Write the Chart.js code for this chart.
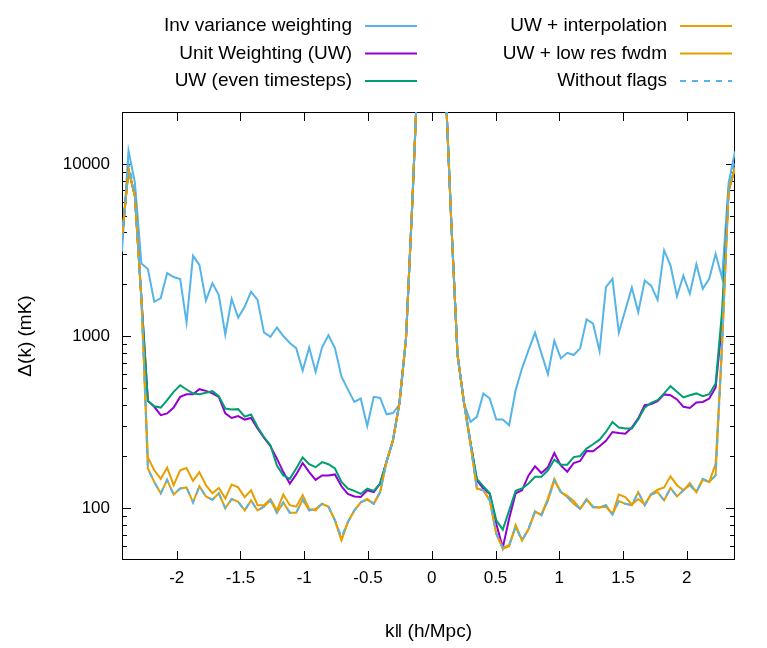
<!DOCTYPE html>
<html>
<head>
<meta charset="utf-8">
<script src="https://cdn.jsdelivr.net/npm/chart.js@4.4.0/dist/chart.umd.min.js"></script>
<style>
  html, body { margin: 0; padding: 0; background: #fff; }
  #wrap { width: 767px; height: 648px; }
</style>
</head>
<body>
<div id="wrap"><canvas id="chart" width="767" height="648"></canvas></div>
<script>
// k parallel grid (h/Mpc)
const kPar = [
  -2.429, -2.378, -2.328, -2.277, -2.226, -2.176, -2.125, -2.075, -2.024, -1.973,
  -1.923, -1.872, -1.822, -1.771, -1.720, -1.670, -1.619, -1.569, -1.518, -1.467,
  -1.417, -1.366, -1.316, -1.265, -1.214, -1.164, -1.113, -1.063, -1.012, -0.961,
  -0.911, -0.860, -0.810, -0.759, -0.708, -0.658, -0.607, -0.557, -0.506, -0.455,
  -0.405, -0.354, -0.304, -0.253, -0.202, -0.152, -0.101, -0.051, 0, 0.051,
  0.101, 0.152, 0.202, 0.253, 0.304, 0.354, 0.405, 0.455, 0.506, 0.557,
  0.607, 0.658, 0.708, 0.759, 0.810, 0.860, 0.911, 0.961, 1.012, 1.063,
  1.113, 1.164, 1.214, 1.265, 1.316, 1.366, 1.417, 1.467, 1.518, 1.569,
  1.619, 1.670, 1.720, 1.771, 1.822, 1.872, 1.923, 1.973, 2.024, 2.075,
  2.125, 2.176, 2.226, 2.277, 2.328, 2.378
];

// Delta(k) in mK for each run
const invVar = [
  3100, 11900, 7800, 2640, 2450, 1580, 1660, 2320, 2200, 2140,
  1200, 2920, 2590, 1610, 2030, 1730, 1020, 1640, 1280, 1480,
  1810, 1620, 1050, 990, 1120, 1000, 910, 850, 630, 860,
  620, 860, 1010, 850, 580, 490, 414, 433, 300, 443,
  437, 351, 357, 400, 965, 6000, 50000, 300000, 1000000, 300000,
  38000, 4800, 780, 405, 317, 339, 464, 433, 327, 327,
  303, 485, 649, 828, 1045, 793, 601, 939, 741, 799,
  775, 848, 1250, 1180, 815, 1920, 2150, 1045, 1417, 1910,
  1374, 2100, 1960, 1620, 3140, 2570, 1700, 2240, 1760, 2610,
  1880, 2150, 3000, 2170, 7740, 11800
];
const unitW = [
  3700, 9300, 6500, 1650, 420, 388, 347, 355, 384, 443,
  459, 459, 491, 480, 464, 443, 355, 334, 343, 327,
  334, 290, 257, 229, 194, 162, 139, 157, 183, 162,
  146, 155, 155, 157, 134, 121, 117, 116, 127, 124,
  139, 187, 248, 410, 965, 6000, 50000, 300000, 1000000, 300000,
  38000, 4800, 780, 410, 240, 145, 130, 121, 81, 59,
  87, 122, 127, 155, 175, 160, 173, 209, 177, 163,
  183, 188, 215, 214, 229, 246, 277, 273, 271, 294,
  332, 396, 402, 418, 458, 453, 428, 388, 382, 411,
  414, 433, 502, 1200, 7000, 9500
];
const unitWEven = [
  3700, 9300, 6500, 1650, 420, 391, 384, 424, 474, 518,
  489, 464, 459, 468, 478, 447, 379, 374, 376, 340,
  350, 296, 259, 232, 177, 155, 148, 170, 197, 180,
  173, 185, 180, 170, 142, 130, 126, 121, 130, 126,
  139, 187, 248, 410, 965, 6000, 50000, 300000, 1000000, 300000,
  38000, 4800, 780, 410, 240, 148, 134, 122, 85, 75,
  97, 126, 130, 139, 152, 152, 166, 191, 179, 179,
  198, 201, 222, 235, 250, 277, 317, 294, 290, 290,
  327, 384, 409, 424, 464, 511, 474, 440, 453, 464,
  447, 459, 530, 1400, 7000, 9500
];
const uwInterp = [
  3700, 9300, 6500, 1650, 197, 166, 148, 172, 136, 166,
  171, 144, 162, 136, 122, 131, 114, 137, 132, 116,
  127, 104, 104, 113, 97, 120, 104, 102, 119, 99,
  97, 106, 102, 85, 65, 83, 97, 108, 112, 106,
  124, 187, 248, 410, 965, 6000, 50000, 300000, 1000000, 300000,
  38000, 4800, 780, 410, 235, 130, 127, 111, 71, 58,
  60, 80, 65, 75, 95, 92, 114, 148, 124, 118,
  110, 99, 113, 101, 101, 102, 92, 120, 116, 105,
  113, 105, 121, 128, 132, 153, 136, 127, 140, 124,
  146, 142, 181, 900, 7000, 9500
];
const uwLowRes = [
  3700, 9300, 6500, 1650, 170, 142, 122, 146, 120, 130,
  132, 108, 134, 117, 112, 122, 100, 113, 109, 97,
  111, 97, 102, 111, 94, 108, 94, 94, 112, 97,
  99, 106, 102, 85, 66, 83, 97, 108, 113, 106,
  124, 187, 248, 410, 965, 6000, 50000, 300000, 1000000, 300000,
  38000, 4800, 780, 410, 235, 130, 127, 111, 71, 59,
  61, 78, 65, 76, 96, 91, 111, 145, 124, 116,
  106, 99, 112, 102, 101, 104, 92, 110, 106, 104,
  124, 104, 120, 124, 111, 131, 117, 127, 136, 124,
  148, 142, 155, 900, 7000, 9500
];
const noFlags = [
  3700, 10000, 6800, 1700, 170, 142, 122, 146, 120, 130,
  132, 108, 134, 117, 112, 122, 100, 113, 109, 97,
  111, 97, 102, 111, 94, 108, 94, 94, 112, 97,
  99, 106, 102, 85, 68, 83, 97, 108, 113, 106,
  124, 187, 248, 410, 965, 6000, 50000, 300000, 1000000, 300000,
  38000, 4800, 780, 410, 235, 130, 127, 111, 71, 59,
  61, 78, 65, 76, 96, 91, 111, 145, 124, 116,
  106, 99, 112, 102, 101, 104, 92, 110, 106, 104,
  124, 104, 120, 124, 111, 131, 117, 127, 136, 124,
  148, 142, 155, 900, 7500, 10500
];

const seriesNames = ['Inv variance weighting', 'Unit Weighting (UW)', 'UW (even timesteps)',
                     'UW + interpolation', 'UW + low res fwdm', 'Without flags'];
const seriesColors = ['#56b4e9', '#9400d3', '#009e73', '#e69f00', '#e69f00', '#56b4e9'];
const seriesValues = [invVar, unitW, unitWEven, uwInterp, uwLowRes, noFlags];

const xTicks = [-2, -1.5, -1, -0.5, 0, 0.5, 1, 1.5, 2];
const yTicks = [100, 1000, 10000];

const FONT_FAMILY = "'Liberation Sans', Arial, sans-serif";
const TICK_SIZE = 17;
const TEXT_SIZE = 19;

// gnuplot style frame with inward ticks on all four sides
const gnuFrame = {
    id: 'gnuFrame',
    beforeDatasetsDraw(chart) {
        const { ctx, chartArea: a, scales: { x, y } } = chart;
        ctx.save();
        ctx.strokeStyle = '#000';
        ctx.lineWidth = 1;
        ctx.beginPath();
        xTicks.forEach(v => {
            const px = Math.round(x.getPixelForValue(v)) + 0.5;
            ctx.moveTo(px, a.bottom); ctx.lineTo(px, a.bottom - 9);
            ctx.moveTo(px, a.top); ctx.lineTo(px, a.top + 9);
        });
        for (let d = 10; d <= 10000; d *= 10) {
            for (let m = 1; m <= 9; m++) {
                const v = m * d;
                if (v <= y.min || v >= y.max) continue;
                const len = m === 1 ? 9 : 5;
                const py = Math.round(y.getPixelForValue(v)) + 0.5;
                ctx.moveTo(a.left, py); ctx.lineTo(a.left + len, py);
                ctx.moveTo(a.right, py); ctx.lineTo(a.right - len, py);
            }
        }
        ctx.stroke();
        ctx.strokeRect(a.left + 0.5, a.top + 0.5, a.right - a.left - 1, a.bottom - a.top - 1);
        ctx.restore();
    }
};

// two column key above the plot, text right-aligned before the sample line
const gnuKey = {
    id: 'gnuKey',
    afterDraw(chart) {
        const ctx = chart.ctx;
        ctx.save();
        ctx.font = TEXT_SIZE + 'px ' + FONT_FAMILY;
        ctx.textAlign = 'right';
        ctx.textBaseline = 'middle';
        chart.data.datasets.forEach((ds, i) => {
            const textX = i < 3 ? 352 : 667;
            const yy = 26 + (i % 3) * 27.5;
            ctx.fillStyle = '#000';
            ctx.fillText(ds.label, textX, yy);
            ctx.strokeStyle = ds.borderColor;
            ctx.lineWidth = 2;
            ctx.setLineDash(ds.borderDash || []);
            ctx.beginPath();
            ctx.moveTo(textX + 13, yy);
            ctx.lineTo(textX + 65, yy);
            ctx.stroke();
        });
        ctx.restore();
    }
};

const datasets = seriesValues.map((vals, i) => ({
    label: seriesNames[i],
    data: kPar.map((k, j) => ({ x: k, y: vals[j] })),
    borderColor: seriesColors[i],
    borderWidth: 2,
    borderDash: i === 5 ? [6, 6] : [],
    pointRadius: 0,
    tension: 0,
    fill: false,
    order: 5 - i
}));

new Chart(document.getElementById('chart').getContext('2d'), {
    type: 'line',
    data: { datasets: datasets },
    options: {
        responsive: false,
        devicePixelRatio: 1,
        animation: false,
        layout: { padding: { left: 0, right: 32, top: 112, bottom: 0 } },
        plugins: { legend: { display: false }, tooltip: { enabled: false } },
        scales: {
            x: {
                type: 'linear',
                min: kPar[0],
                max: kPar[kPar.length - 1],
                grid: { display: false, drawTicks: false },
                border: { display: false },
                afterBuildTicks: s => { s.ticks = xTicks.map(v => ({ value: v })); },
                afterFit: s => { s.height = 88; },
                ticks: {
                    color: '#000', padding: 8, maxRotation: 0,
                    font: { family: FONT_FAMILY, size: TICK_SIZE },
                    callback: v => String(v)
                },
                title: {
                    display: true, text: 'k\u2016 (h/Mpc)', color: '#000',
                    font: { family: FONT_FAMILY, size: TEXT_SIZE },
                    padding: { top: 0, bottom: 5 }
                }
            },
            y: {
                type: 'logarithmic',
                min: 50,
                max: 20000,
                grid: { display: false, drawTicks: false },
                border: { display: false },
                afterBuildTicks: s => { s.ticks = yTicks.map(v => ({ value: v })); },
                afterFit: s => { s.width = 122; },
                ticks: {
                    color: '#000', padding: 12,
                    font: { family: FONT_FAMILY, size: TICK_SIZE },
                    callback: v => String(v)
                },
                title: {
                    display: true, text: '\u0394(k) (mK)', color: '#000',
                    font: { family: FONT_FAMILY, size: TEXT_SIZE },
                    padding: { top: 14, bottom: 0 }
                }
            }
        }
    },
    plugins: [gnuFrame, gnuKey]
});
</script>
</body>
</html>
